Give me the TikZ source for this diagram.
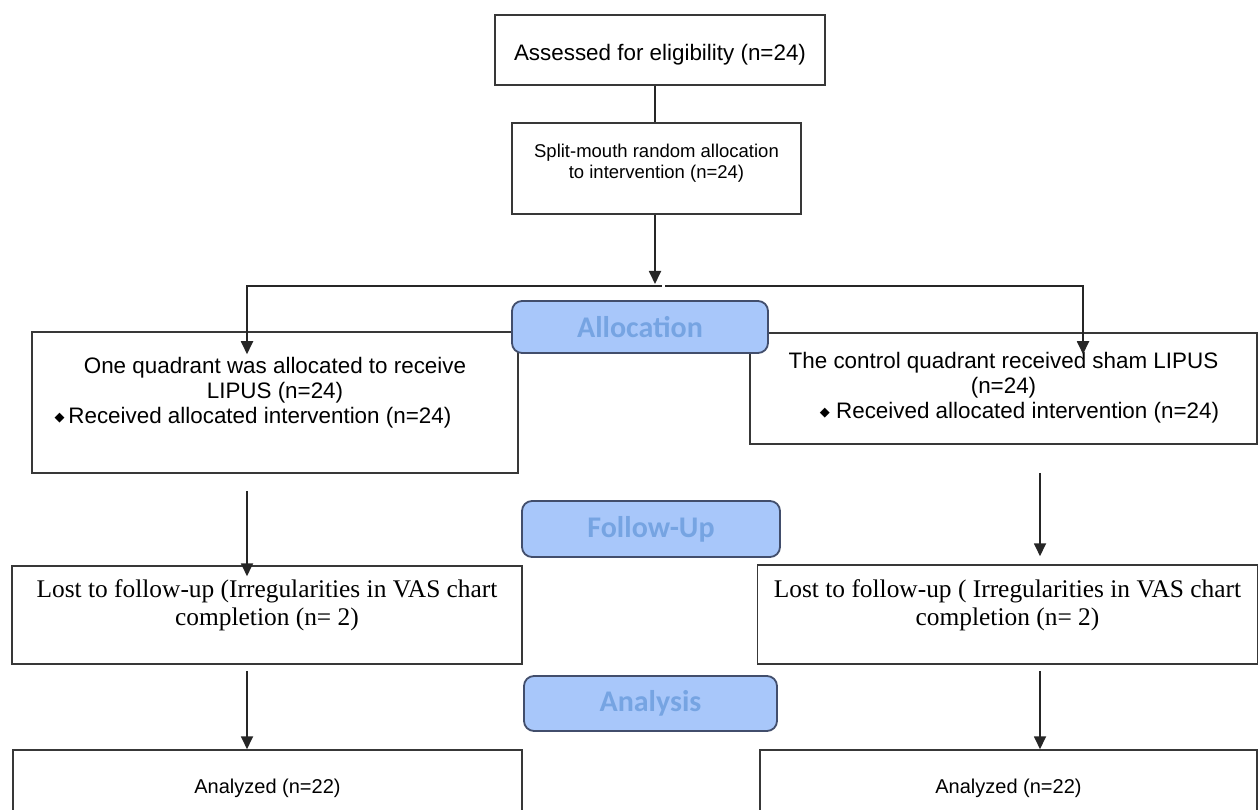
\documentclass[tikz,border=0pt]{standalone}
\usepackage{fontspec}
\setmainfont{Liberation Sans}
\newfontfamily\serifface{Liberation Serif}
\newfontfamily\pillface{Carlito}
\newfontfamily\symface{DejaVu Sans}
\usetikzlibrary{arrows.meta,positioning}

\definecolor{pillfill}{RGB}{168,199,250}
\definecolor{pilledge}{RGB}{66,78,108}
\definecolor{pilltext}{RGB}{118,164,226}

\newcommand{\lifted}[2]{\raisebox{#1}[\height][\depth]{\begin{tabular}{@{}c@{}}#2\end{tabular}}}
\newcommand{\diam}{\raisebox{1.5pt}{\symface\fontsize{13}{13}\selectfont ◆}}

\tikzset{
  box/.style={draw=black!78, line width=1.5pt, fill=white, inner sep=0pt,
    font=\fontsize{22.4}{25}\selectfont},
  pill/.style={draw=pilledge, line width=1.8pt, fill=pillfill, rounded corners=10pt,
    inner sep=0pt, text=pilltext, font=\pillface\bfseries\fontsize{30}{30}\selectfont},
  arr/.style={-{Triangle[width=12pt,length=13pt]}, line width=1.8pt, draw=black!85},
  link/.style={line width=1.8pt, draw=black!85}
}

\begin{document}
\begin{tikzpicture}[x=1pt,y=-1pt]
\useasboundingbox (0,0) rectangle (1259,810);

% draw the enrolment boxes
\node[box, minimum width=330, minimum height=70] (elig) at (660,50) {\lifted{-6pt}{Assessed for eligibility (n=24)}};
\node[box, font=\fontsize{18.5}{21}\selectfont, minimum width=289, minimum height=91] (split) at (656.5,168.5) {\lifted{5pt}{Split-mouth random allocation\\to intervention (n=24)}};

% draw the two arms
\node[box, minimum width=486, minimum height=141] (lipus) at (275,402.5) {\lifted{9pt}{One quadrant was allocated to receive\\LIPUS (n=24)\\\diam\,Received allocated intervention (n=24)\hspace*{44pt}}};
\node[box, minimum width=507, minimum height=111] (sham) at (1003.5,388.5) {\lifted{0pt}{The control quadrant received sham LIPUS\\(n=24)\\\hspace*{32pt}\diam{} Received allocated intervention (n=24)}};

\node[box, font=\serifface\fontsize{25.4}{28}\selectfont, minimum width=510, minimum height=98] (lostL) at (267,615) {\lifted{9pt}{Lost to follow-up (Irregularities in VAS chart\\completion (n= 2)}};
\node[box, font=\serifface\fontsize{25.4}{28}\selectfont, minimum width=500, minimum height=99] (lostR) at (1007.5,614.5) {\lifted{9pt}{Lost to follow-up ( Irregularities in VAS chart\\completion (n= 2)}};

\node[box, font=\fontsize{20}{22}\selectfont, minimum width=509, minimum height=100] (anaL) at (267.5,800) {\lifted{11pt}{Analyzed (n=22)}};
\node[box, font=\fontsize{20}{22}\selectfont, minimum width=497, minimum height=100] (anaR) at (1008.5,800) {\lifted{11pt}{Analyzed (n=22)}};

% draw the connectors
\coordinate (fork) at (655,284);
\coordinate (barL) at (662,286);
\coordinate (barR) at (665,286);
\coordinate (colL) at (247,0);
\coordinate (colR) at (1040,0);
\coordinate (forkR) at (1083,0);

\draw[link] (elig.south -| fork) -- (split.north -| fork);
\draw[arr] (split.south -| fork) -- (fork);
\draw[arr] (barL) -| ([yshift=-23pt]lipus.north -| colL);
\draw[arr] (barR) -| ([yshift=-22pt]sham.north -| forkR);

\draw[arr] ([yshift=-17pt]lipus.south -| colL) -- ([yshift=-11pt]lostL.north -| colL);
\draw[arr] ([yshift=-28pt]sham.south -| colR) -- ([yshift=8pt]lostR.north -| colR);
\draw[arr] ([yshift=-6pt]lostL.south -| colL) -- (anaL.north -| colL);
\draw[arr] ([yshift=-6pt]lostR.south -| colR) -- (anaR.north -| colR);

% draw the stage labels
\node[pill, minimum width=256, minimum height=52] (alloc) at (640,327) {Allocation};
\node[pill, minimum width=258, minimum height=56] (follow) at (651,529) {Follow-Up};
\node[pill, minimum width=253, minimum height=55] (analysis) at (650.5,703.5) {Analysis};

\end{tikzpicture}
\end{document}
